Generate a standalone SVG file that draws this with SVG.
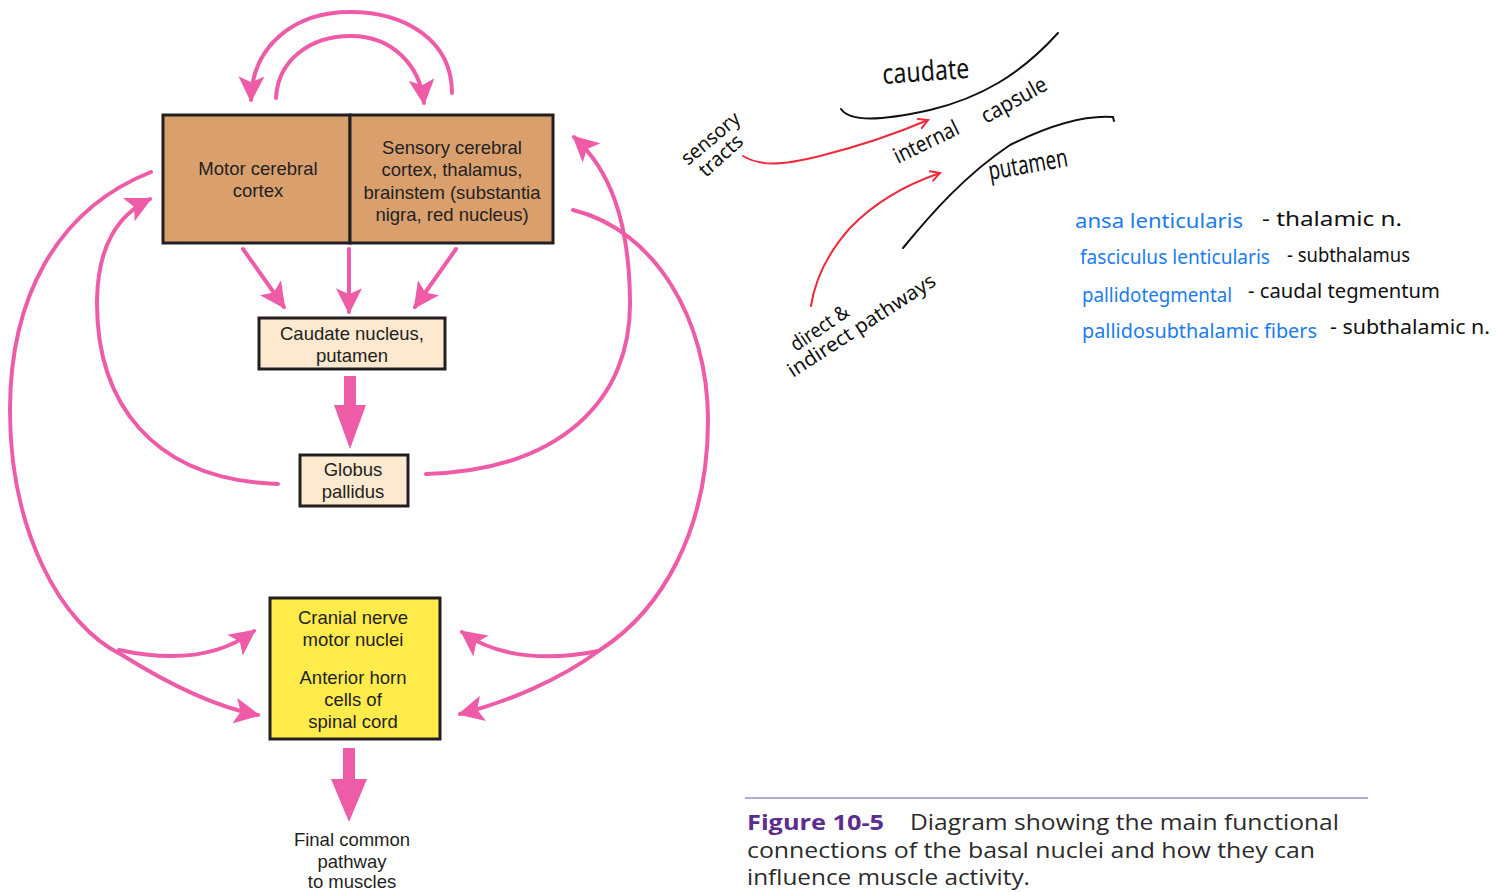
<svg xmlns="http://www.w3.org/2000/svg" width="1502" height="892" viewBox="0 0 1502 892">
<style>
.box{stroke:#231f20;stroke-width:3}
.lbl{font-family:"Liberation Sans",Arial,sans-serif;font-size:18.5px;fill:#231f20;text-anchor:middle}
.pk{fill:none;stroke:#ee5ca8;stroke-width:4;stroke-linecap:round}
.pkf{fill:#ee5ca8}
.hw{font-family:"Noto Sans","DejaVu Sans",sans-serif;fill:#111}
.bl{fill:#1a7cf0}
.ink{fill:none;stroke:#111;stroke-width:2;stroke-linecap:round}
.red{fill:none;stroke:#ee2a3c;stroke-width:2;stroke-linecap:round}
.cap{font-family:"Open Sans",Lato,sans-serif;font-size:21px;fill:#2b2b2b}
</style>
<defs>
<marker id="ah" markerUnits="userSpaceOnUse" markerWidth="26" markerHeight="26" refX="20" refY="11" orient="auto" viewBox="0 0 22 22">
<path d="M0,0 L22,11 L0,22 L5,11 Z" fill="#ee5ca8"/>
</marker>
<marker id="rh" markerUnits="userSpaceOnUse" markerWidth="12" markerHeight="12" refX="10" refY="6" orient="auto" viewBox="0 0 12 12">
<path d="M1,1 L10,6 L1,11" fill="none" stroke="#ee2a3c" stroke-width="2" stroke-linecap="round"/>
</marker>
</defs>
<rect width="1502" height="892" fill="#fff"/>

<g id="connectors">
<path class="pk" d="M452,93 C452,40 405,12 350,12 C295,12 252,45 251,100" marker-end="url(#ah)"/>
<path class="pk" d="M276,98 C278,60 310,36 351,36 C392,36 420,65 424,103" marker-end="url(#ah)"/>
<path class="pk" d="M243,249 L284,307" marker-end="url(#ah)"/>
<path class="pk" d="M349,249 L349,312" marker-end="url(#ah)"/>
<path class="pk" d="M456,249 L415,307" marker-end="url(#ah)"/>
<polygon class="pkf" points="344,376 356,376 356,405 366,405 350,449 334,405 344,405"/>
<path class="pk" d="M278,484 C150,480 96,400 97,300 C98,245 118,215 150,199" marker-end="url(#ah)"/>
<path class="pk" d="M426,474 C560,470 632,400 630,300 C629,220 610,170 574,137" marker-end="url(#ah)"/>
<path class="pk" d="M151,172 C55,210 10,300 10,410 C10,530 60,625 122,655 C170,685 215,707 258,715" marker-end="url(#ah)"/>
<path class="pk" d="M119,650 C165,660 215,660 254,631" marker-end="url(#ah)"/>
<path class="pk" d="M573,210 C655,230 708,320 708,420 C708,530 662,610 600,650 C560,680 505,703 460,714" marker-end="url(#ah)"/>
<path class="pk" d="M598,651 C555,660 500,660 462,632" marker-end="url(#ah)"/>
<polygon class="pkf" points="343,748 355,748 355,779 367,779 349,822 331,779 343,779"/>
<path class="red" d="M743,156 C760,166 780,166 820,156 C860,146 900,132 928,120" marker-end="url(#rh)"/>
<path class="red" d="M811,306 C815,280 826,255 850,228 C875,202 905,185 940,173" marker-end="url(#rh)"/>
</g>

<g id="motor-cortex">
<rect class="box" x="163" y="115" width="187" height="128" fill="#d9a06e"/>
<text class="lbl" x="258" y="175">Motor cerebral</text>
<text class="lbl" x="258" y="197">cortex</text>
</g>
<g id="sensory-cortex">
<rect class="box" x="350" y="115" width="203" height="128" fill="#d9a06e"/>
<text class="lbl" x="452" y="154">Sensory cerebral</text>
<text class="lbl" x="452" y="176">cortex, thalamus,</text>
<text class="lbl" x="452" y="199">brainstem (substantia</text>
<text class="lbl" x="452" y="221">nigra, red nucleus)</text>
</g>
<g id="caudate">
<rect class="box" x="259" y="318" width="186" height="51" fill="#fce9cf"/>
<text class="lbl" x="352" y="340">Caudate nucleus,</text>
<text class="lbl" x="352" y="362">putamen</text>
</g>
<g id="globus">
<rect class="box" x="300" y="455" width="108" height="51" fill="#fce9cf"/>
<text class="lbl" x="353" y="476">Globus</text>
<text class="lbl" x="353" y="498">pallidus</text>
</g>
<g id="motor-nuclei">
<rect class="box" x="270" y="598" width="170" height="141" fill="#ffeb4a"/>
<text class="lbl" x="353" y="624">Cranial nerve</text>
<text class="lbl" x="353" y="646">motor nuclei</text>
<text class="lbl" x="353" y="684">Anterior horn</text>
<text class="lbl" x="353" y="706">cells of</text>
<text class="lbl" x="353" y="728">spinal cord</text>
</g>
<g id="final">
<text class="lbl" x="352" y="846">Final common</text>
<text class="lbl" x="352" y="868">pathway</text>
<text class="lbl" x="352" y="888">to muscles</text>
</g>

<g id="sketch">
<path class="ink" d="M841,109 C850,122 880,121 930,110 C980,98 1020,75 1058,33"/>
<path class="ink" d="M903,248 C930,215 965,175 1010,145 C1050,125 1085,115 1113,117 L1114,121"/>
<text class="hw" x="883" y="84" font-size="28" textLength="87" lengthAdjust="spacingAndGlyphs" transform="rotate(-4 883 84)">caudate</text>
<text class="hw" x="898" y="164" font-size="22" textLength="70" lengthAdjust="spacingAndGlyphs" transform="rotate(-26 898 164)">internal</text>
<text class="hw" x="986" y="124" font-size="22" textLength="72" lengthAdjust="spacingAndGlyphs" transform="rotate(-29 986 124)">capsule</text>
<text class="hw" x="990" y="180" font-size="26" textLength="80" lengthAdjust="spacingAndGlyphs" transform="rotate(-10 990 180)">putamen</text>
<text class="hw" x="688" y="166" font-size="20" textLength="70" lengthAdjust="spacingAndGlyphs" transform="rotate(-40 688 166)">sensory</text>
<text class="hw" x="706" y="178" font-size="20" textLength="52" lengthAdjust="spacingAndGlyphs" transform="rotate(-42 706 178)">tracts</text>
<text class="hw" x="796" y="352" font-size="20" textLength="66" lengthAdjust="spacingAndGlyphs" transform="rotate(-34 796 352)">direct &amp;</text>
<text class="hw" x="793" y="378" font-size="20" textLength="172" lengthAdjust="spacingAndGlyphs" transform="rotate(-33 793 378)">indirect pathways</text>
</g>

<g id="fiber-list" font-size="19">
<text class="hw bl" x="1075" y="228" textLength="168" lengthAdjust="spacingAndGlyphs">ansa  lenticularis</text>
<text class="hw" x="1262" y="226" textLength="140" lengthAdjust="spacingAndGlyphs">-  thalamic n.</text>
<text class="hw bl" x="1080" y="264" textLength="190" lengthAdjust="spacingAndGlyphs">fasciculus lenticularis</text>
<text class="hw" x="1287" y="262" textLength="123" lengthAdjust="spacingAndGlyphs">- subthalamus</text>
<text class="hw bl" x="1082" y="302" textLength="150" lengthAdjust="spacingAndGlyphs">pallidotegmental</text>
<text class="hw" x="1248" y="298" textLength="192" lengthAdjust="spacingAndGlyphs">-  caudal  tegmentum</text>
<text class="hw bl" x="1082" y="338" textLength="235" lengthAdjust="spacingAndGlyphs">pallidosubthalamic  fibers</text>
<text class="hw" x="1330" y="334" textLength="160" lengthAdjust="spacingAndGlyphs">-  subthalamic n.</text>
</g>

<g id="caption">
<line x1="745" y1="798" x2="1368" y2="798" stroke="#b9a9d6" stroke-width="2"/>
<text class="cap" x="747" y="830" font-size="22"><tspan font-weight="bold" fill="#5b2d8e" textLength="137" lengthAdjust="spacingAndGlyphs">Figure 10-5</tspan></text>
<text class="cap" x="910" y="830" font-size="22" textLength="429" lengthAdjust="spacingAndGlyphs">Diagram showing the main functional</text>
<text class="cap" x="747" y="858" textLength="568" lengthAdjust="spacingAndGlyphs">connections of the basal nuclei and how they can</text>
<text class="cap" x="747" y="885" textLength="283" lengthAdjust="spacingAndGlyphs">influence muscle activity.</text>
</g>
</svg>
